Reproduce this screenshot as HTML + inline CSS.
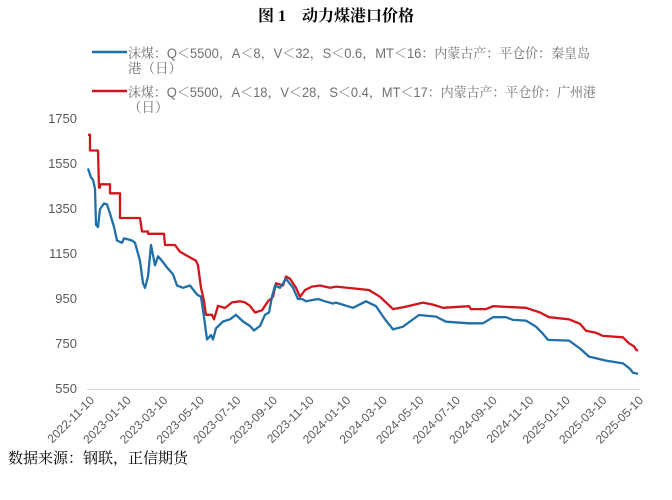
<!DOCTYPE html>
<html><head><meta charset="utf-8"><style>
body{margin:0;background:#fff;}
svg{display:block;font-family:"Liberation Sans","Noto Sans CJK SC",sans-serif;}
</style></head><body>
<svg width="672" height="500" xmlns="http://www.w3.org/2000/svg">
<text x="336" y="21" text-anchor="middle" font-size="16" font-weight="bold" fill="#000" font-family="'Liberation Serif','Noto Serif CJK SC',serif">图 1　动力煤港口价格</text>
<line x1="92" y1="52" x2="127" y2="52" stroke="#1f6fa8" stroke-width="2.5"/>
<text x="128" y="58" font-size="13.5" fill="#707070" textLength="462" lengthAdjust="spacingAndGlyphs" font-family="'Liberation Sans','Noto Serif CJK SC',serif">沫煤：Q＜5500，A＜8，V＜32，S＜0.6，MT＜16：内蒙古产：平仓价：秦皇岛</text>
<text x="128" y="73" font-size="13.5" fill="#707070" font-family="'Liberation Sans','Noto Serif CJK SC',serif">港（日）</text>
<line x1="92" y1="91" x2="127" y2="91" stroke="#d0161b" stroke-width="2.5"/>
<text x="128" y="97" font-size="13.5" fill="#707070" textLength="468" lengthAdjust="spacingAndGlyphs" font-family="'Liberation Sans','Noto Serif CJK SC',serif">沫煤：Q＜5500，A＜18，V＜28，S＜0.4，MT＜17：内蒙古产：平仓价：广州港</text>
<text x="128" y="112" font-size="13.5" fill="#707070" font-family="'Liberation Sans','Noto Serif CJK SC',serif">（日）</text>
<g font-size="13" fill="#595959" text-anchor="end">
<text x="77" y="123">1750</text><text x="77" y="168">1550</text><text x="77" y="213">1350</text>
<text x="77" y="258">1150</text><text x="77" y="303">950</text><text x="77" y="348">750</text><text x="77" y="393">550</text>
</g>
<line x1="87" y1="389.5" x2="640" y2="389.5" stroke="#d9d9d9" stroke-width="1"/>
<g font-size="12" fill="#595959" text-anchor="end">
<text x="95" y="401" transform="rotate(-45 95 401)">2022-11-10</text>
<text x="131.6" y="401" transform="rotate(-45 131.6 401)">2023-01-10</text>
<text x="168.2" y="401" transform="rotate(-45 168.2 401)">2023-03-10</text>
<text x="204.8" y="401" transform="rotate(-45 204.8 401)">2023-05-10</text>
<text x="241.4" y="401" transform="rotate(-45 241.4 401)">2023-07-10</text>
<text x="278" y="401" transform="rotate(-45 278 401)">2023-09-10</text>
<text x="314.6" y="401" transform="rotate(-45 314.6 401)">2023-11-10</text>
<text x="351.2" y="401" transform="rotate(-45 351.2 401)">2024-01-10</text>
<text x="387.8" y="401" transform="rotate(-45 387.8 401)">2024-03-10</text>
<text x="424.4" y="401" transform="rotate(-45 424.4 401)">2024-05-10</text>
<text x="461" y="401" transform="rotate(-45 461 401)">2024-07-10</text>
<text x="497.6" y="401" transform="rotate(-45 497.6 401)">2024-09-10</text>
<text x="534.2" y="401" transform="rotate(-45 534.2 401)">2024-11-10</text>
<text x="570.8" y="401" transform="rotate(-45 570.8 401)">2025-01-10</text>
<text x="607.4" y="401" transform="rotate(-45 607.4 401)">2025-03-10</text>
<text x="644" y="401" transform="rotate(-45 644 401)">2025-05-10</text>
</g>
<polyline id="red" fill="none" stroke="#d0161b" stroke-width="2.3" stroke-linejoin="round"/>
<polyline id="blue" fill="none" stroke="#1f6fa8" stroke-width="2.3" stroke-linejoin="round"/>
<text x="8" y="463" font-size="15" fill="#000" font-family="'Liberation Serif','Noto Serif CJK SC',serif">数据来源：钢联，正信期货</text>
<script>
function Y(v){return 389-(v-550)*0.225;}
var red=[[88,1680],[90,1680],[90,1610],[98,1610],[99,1445],[100,1445],[100,1460],[110,1460],[110,1420],[120,1420],[120,1310],[140,1310],[142,1250],[148,1250],[148,1240],[164,1240],[165,1190],[175,1190],[180,1160],[190,1135],[196,1120],[198,1100],[201,1000],[204,940],[206,880],[212,880],[214,860],[218,920],[225,910],[232,935],[240,940],[245,935],[250,920],[255,890],[262,900],[268,940],[273,960],[276,1020],[283,1010],[286,1050],[290,1040],[296,1000],[300,960],[305,990],[312,1005],[320,1010],[330,1000],[336,1005],[369,990],[380,960],[393,905],[405,915],[423,934],[433,925],[443,911],[469,918],[471,905],[486,905],[493,918],[526,911],[540,890],[549,869],[569,860],[580,840],[586,809],[596,800],[603,786],[623,780],[629,753],[634,740],[636,725],[638,720]];
var blue=[[88,1530],[91,1490],[93,1480],[95,1440],[96,1280],[98,1270],[100,1350],[104,1375],[107,1370],[110,1330],[114,1270],[117,1210],[122,1200],[124,1220],[132,1210],[135,1200],[140,1120],[143,1020],[145,1000],[148,1050],[151,1190],[155,1100],[158,1140],[162,1120],[167,1090],[173,1060],[177,1010],[183,1000],[190,1010],[197,970],[201,960],[204,870],[207,770],[211,790],[213,770],[216,820],[223,850],[230,860],[236,880],[243,850],[250,830],[254,810],[260,830],[265,880],[269,890],[272,960],[275,1010],[280,1000],[286,1040],[293,1000],[298,950],[302,950],[306,940],[318,950],[325,940],[333,930],[336,934],[353,911],[366,940],[376,918],[385,860],[393,815],[403,827],[410,850],[419,879],[436,872],[446,849],[469,842],[483,842],[493,869],[506,869],[513,857],[526,854],[536,827],[542,800],[548,768],[569,765],[580,730],[589,694],[606,676],[623,664],[630,640],[633,622],[638,618]];
function pts(a){return a.map(function(p){return p[0]+','+Y(p[1]).toFixed(1);}).join(' ');}
document.getElementById('red').setAttribute('points',pts(red));
document.getElementById('blue').setAttribute('points',pts(blue));
</script>
</svg>
</body></html>
